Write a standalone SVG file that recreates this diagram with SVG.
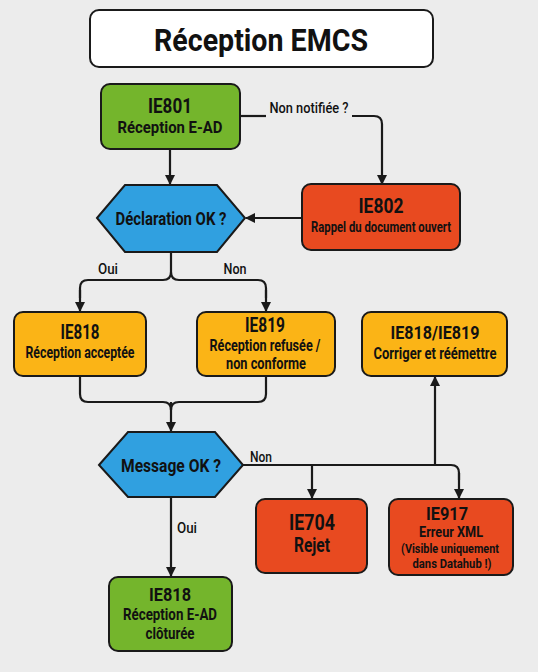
<svg xmlns="http://www.w3.org/2000/svg" width="538" height="672" viewBox="0 0 538 672">
<defs>
<marker id="ah" markerWidth="10" markerHeight="10" refX="9" refY="5" orient="auto" markerUnits="userSpaceOnUse">
<path d="M0,0 L10,5 L0,10 Z" fill="#1a1a1a"/>
</marker>
<style>
text{font-family:Roboto,"Liberation Sans",sans-serif;font-weight:bold;fill:#111;text-anchor:middle}
.box{stroke:#1a1a1a;stroke-width:2}
.g{fill:#74b52c}
.r{fill:#e84a20}
.o{fill:#fbb416}
.b{fill:#30a0e0}
.c{fill:none;stroke:#1a1a1a;stroke-width:2.2;marker-end:url(#ah)}
.cn{fill:none;stroke:#1a1a1a;stroke-width:2.2}
.h{font-size:20px}
.s{font-size:17px}
.l{font-size:15px;font-weight:500}
</style>
</defs>
<rect width="538" height="672" fill="#ececec"/>
<g id="title">
<rect x="90" y="10" width="343" height="57" rx="9" fill="#fff" stroke="#1a1a1a" stroke-width="2"/>
<text x="261" y="51" style="font-size:32px" textLength="214" lengthAdjust="spacingAndGlyphs">Réception EMCS</text>
</g>
<g id="connectors">
<path class="c" d="M170,149 V184"/>
<path class="cn" d="M240,116 H266"/>
<path class="c" d="M352,116 H374 Q382,116 382,124 V184"/>
<path class="c" d="M302,218 H246"/>
<path class="cn" d="M171,252 V272 Q171,280 163,280 H88 Q80,280 80,288 V298"/>
<path class="c" d="M80,290 V311"/>
<path class="cn" d="M171,272 Q171,280 179,280 H258 Q266,280 266,288 V298"/>
<path class="c" d="M266,290 V311"/>
<path class="cn" d="M80,376 V394 Q80,402 88,402 H163 Q171,402 171,410"/>
<path class="cn" d="M266,376 V394 Q266,402 258,402 H179 Q171,402 171,410"/>
<path class="c" d="M171,402 V431"/>
<path class="cn" d="M243,465 H451 Q459,465 459,473 V480"/>
<path class="c" d="M459,473 V498"/>
<path class="c" d="M312,465 V498"/>
<path class="c" d="M435,465 V377"/>
<path class="c" d="M171,497 V576"/>
<text class="l" x="309" y="113" textLength="79" lengthAdjust="spacingAndGlyphs">Non notifiée ?</text>
<text class="l" x="108" y="274" textLength="20" lengthAdjust="spacingAndGlyphs">Oui</text>
<text class="l" x="235" y="274" textLength="23" lengthAdjust="spacingAndGlyphs">Non</text>
<text class="l" x="261" y="462" textLength="22" lengthAdjust="spacingAndGlyphs">Non</text>
<text class="l" x="187" y="533" textLength="20" lengthAdjust="spacingAndGlyphs">Oui</text>
</g>
<g id="ie801">
<rect class="box g" x="101" y="84" width="139" height="65" rx="9"/>
<text class="h" x="170" y="113" textLength="44" lengthAdjust="spacingAndGlyphs">IE801</text>
<text class="s" x="170" y="133" textLength="105" lengthAdjust="spacingAndGlyphs">Réception E-AD</text>
</g>
<g id="declaration">
<polygon class="box b" points="97,218 125,185 217,185 245,218 217,252 125,252"/>
<text x="171" y="225" style="font-size:18px" textLength="111" lengthAdjust="spacingAndGlyphs">Déclaration OK ?</text>
</g>
<g id="ie802">
<rect class="box r" x="302" y="184" width="158" height="66" rx="9"/>
<text class="h" x="381" y="213" textLength="45" lengthAdjust="spacingAndGlyphs">IE802</text>
<text x="381" y="232" style="font-size:15px" textLength="140" lengthAdjust="spacingAndGlyphs">Rappel du document ouvert</text>
</g>
<g id="ie818a">
<rect class="box o" x="14" y="312" width="132" height="64" rx="9"/>
<text class="h" x="80" y="339" textLength="39" lengthAdjust="spacingAndGlyphs">IE818</text>
<text class="s" x="80" y="358" textLength="109" lengthAdjust="spacingAndGlyphs">Réception acceptée</text>
</g>
<g id="ie819">
<rect class="box o" x="197" y="312" width="138" height="64" rx="9"/>
<text class="h" x="265" y="332" textLength="40" lengthAdjust="spacingAndGlyphs">IE819</text>
<text class="s" x="265" y="351" textLength="111" lengthAdjust="spacingAndGlyphs">Réception refusée /</text>
<text class="s" x="266" y="369" textLength="80" lengthAdjust="spacingAndGlyphs">non conforme</text>
</g>
<g id="corriger">
<rect class="box o" x="362" y="312" width="145" height="64" rx="9"/>
<text x="435" y="339" style="font-size:19px" textLength="89" lengthAdjust="spacingAndGlyphs">IE818/IE819</text>
<text class="s" x="435" y="359" textLength="123" lengthAdjust="spacingAndGlyphs">Corriger et réémettre</text>
</g>
<g id="message">
<polygon class="box b" points="99,465 128,432 215,432 243,465 215,497 128,497"/>
<text x="171" y="472" style="font-size:18px" textLength="100" lengthAdjust="spacingAndGlyphs">Message OK ?</text>
</g>
<g id="ie704">
<rect class="box r" x="256" y="499" width="111" height="74" rx="9"/>
<text x="312" y="530" style="font-size:22px" textLength="46" lengthAdjust="spacingAndGlyphs">IE704</text>
<text x="312" y="552" style="font-size:21px" textLength="36" lengthAdjust="spacingAndGlyphs">Rejet</text>
</g>
<g id="ie917">
<rect class="box r" x="389" y="499" width="124" height="76" rx="9"/>
<text x="447" y="520" style="font-size:19px" textLength="42" lengthAdjust="spacingAndGlyphs">IE917</text>
<text x="451" y="537" style="font-size:15px" textLength="64" lengthAdjust="spacingAndGlyphs">Erreur XML</text>
<text x="450" y="553" style="font-size:13.5px" textLength="98" lengthAdjust="spacingAndGlyphs">(Visible uniquement</text>
<text x="452" y="568" style="font-size:13.5px" textLength="79" lengthAdjust="spacingAndGlyphs">dans Datahub !)</text>
</g>
<g id="ie818b">
<rect class="box g" x="109" y="577" width="123" height="74" rx="9"/>
<text x="170" y="601" style="font-size:19px" textLength="42" lengthAdjust="spacingAndGlyphs">IE818</text>
<text class="s" x="170" y="620" textLength="94" lengthAdjust="spacingAndGlyphs">Réception E-AD</text>
<text class="s" x="170" y="639" textLength="49" lengthAdjust="spacingAndGlyphs">clôturée</text>
</g>
</svg>
